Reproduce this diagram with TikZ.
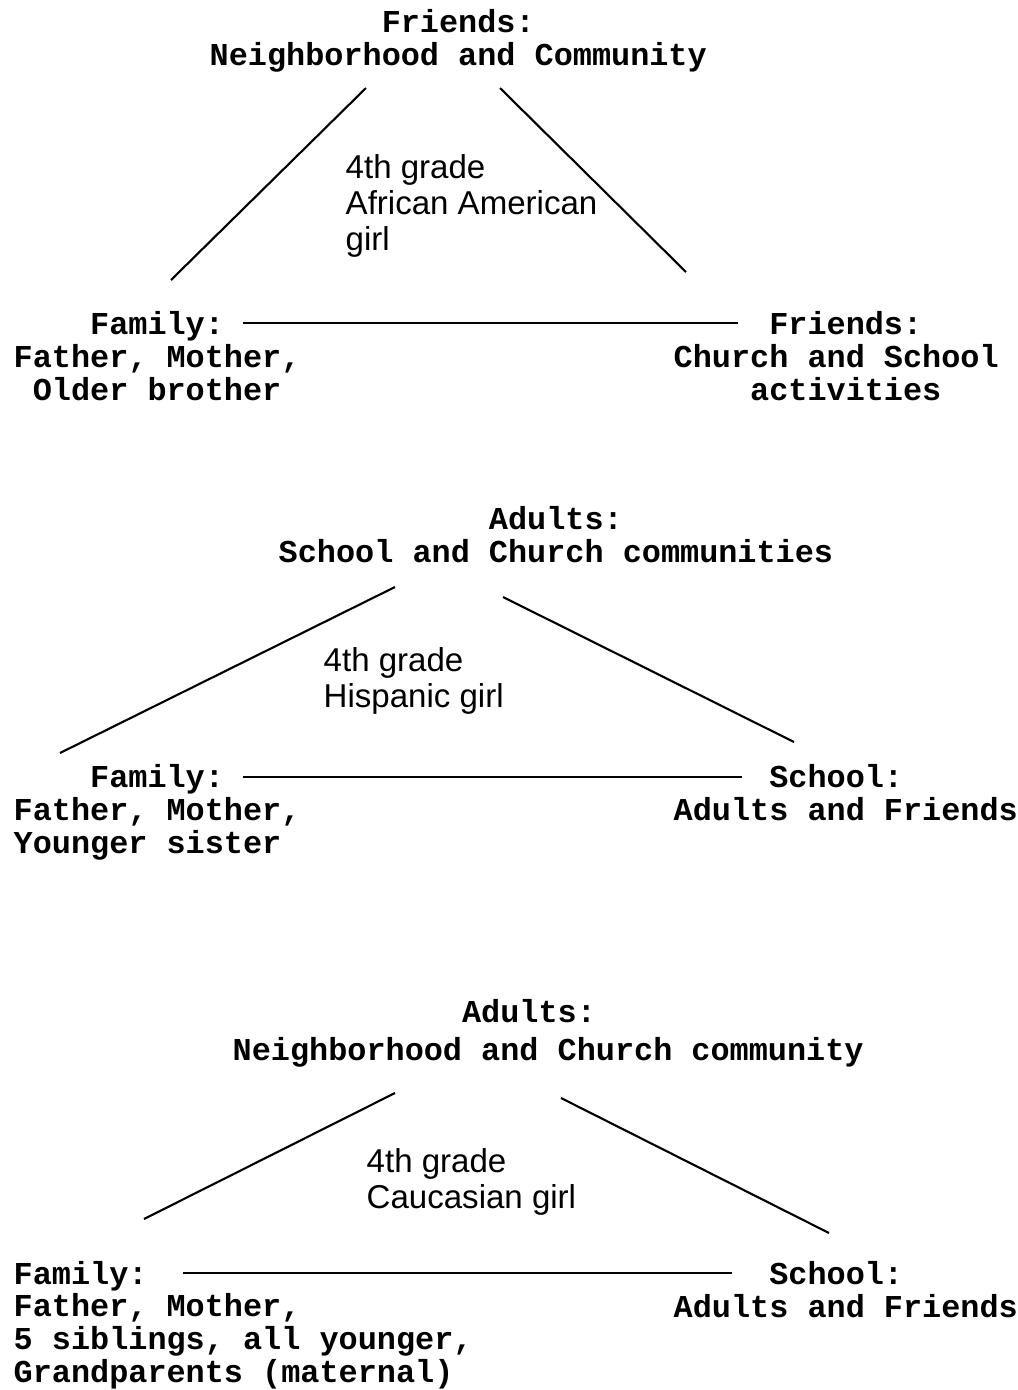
\documentclass[tikz,border=0pt]{standalone}
\usepackage{fontspec}
\setmainfont{Liberation Sans}
\newfontfamily\scanmono{Liberation Mono}
\usetikzlibrary{positioning}

\begin{document}
\begin{tikzpicture}[
      x=0.01cm, y=-0.01cm,
      lab/.style={anchor=base west, inner sep=0pt, align=left,
                  font=\scanmono\bfseries\fontsize{9.06pt}{9.25pt}\selectfont},
      who/.style={anchor=base west, inner sep=0pt, align=left,
                  font=\fontsize{9.4pt}{10.2pt}\selectfont},
      tie/.style={line width=0.6pt},
  ]
  \useasboundingbox (0,0) rectangle (1017,1390);

  %% first triangle (nodes sit on the baseline of their last line)
  \node[lab] (top1) at (209,65)
    {\hspace*{5.4em}Friends:\\Neighborhood and Community};
  \node[lab] (fam1) at (13,400)
    {\hspace*{2.4em}Family:\\Father, Mother,\\\hspace*{0.6em}Older brother};
  \node[lab] (rgt1) at (673,400)
    {\hspace*{3em}Friends:\\Church and School\\\hspace*{2.4em}activities};
  \node[who] (kid1) at (345,250) {4th grade\\African American\\girl};

  \coordinate (t1l) at (366,88);  \coordinate (b1l) at (171,280);
  \coordinate (t1r) at (500,88);  \coordinate (b1r) at (686,272);
  \coordinate (h1l) at (243,323); \coordinate (h1r) at (738,323);
  \draw[tie] (t1l) -- (b1l);
  \draw[tie] (t1r) -- (b1r);
  \draw[tie] (h1l) -- (h1r);

  %% second triangle
  \node[lab] (top2) at (278,562)
    {\hspace*{6.6em}Adults:\\School and Church communities};
  \node[lab] (fam2) at (13,853)
    {\hspace*{2.4em}Family:\\Father, Mother,\\Younger sister};
  \node[lab] (rgt2) at (673,820)
    {\hspace*{3em}School:\\Adults and Friends};
  \node[who] (kid2) at (323,707) {4th grade\\Hispanic girl};

  \coordinate (t2l) at (395,587); \coordinate (b2l) at (60,753);
  \coordinate (t2r) at (503,597); \coordinate (b2r) at (794,742);
  \coordinate (h2l) at (243,777); \coordinate (h2r) at (742,777);
  \draw[tie] (t2l) -- (b2l);
  \draw[tie] (t2r) -- (b2r);
  \draw[tie] (h2l) -- (h2r);

  %% third triangle
  \node[lab] (top3) at (232,1060)
    {\hspace*{7.2em}Adults:\\[1.3pt]Neighborhood and Church community};
  \node[lab] (fam3) at (13,1382)
    {Family:\\Father, Mother,\\5 siblings, all younger,\\Grandparents (maternal)};
  \node[lab] (rgt3) at (673,1317)
    {\hspace*{3em}School:\\Adults and Friends};
  \node[who] (kid3) at (366,1208) {4th grade\\Caucasian girl};

  \coordinate (t3l) at (395,1093); \coordinate (b3l) at (144,1219);
  \coordinate (t3r) at (561,1098); \coordinate (b3r) at (829,1233);
  \coordinate (h3l) at (183,1273); \coordinate (h3r) at (732,1273);
  \draw[tie] (t3l) -- (b3l);
  \draw[tie] (t3r) -- (b3r);
  \draw[tie] (h3l) -- (h3r);

\end{tikzpicture}
\end{document}
